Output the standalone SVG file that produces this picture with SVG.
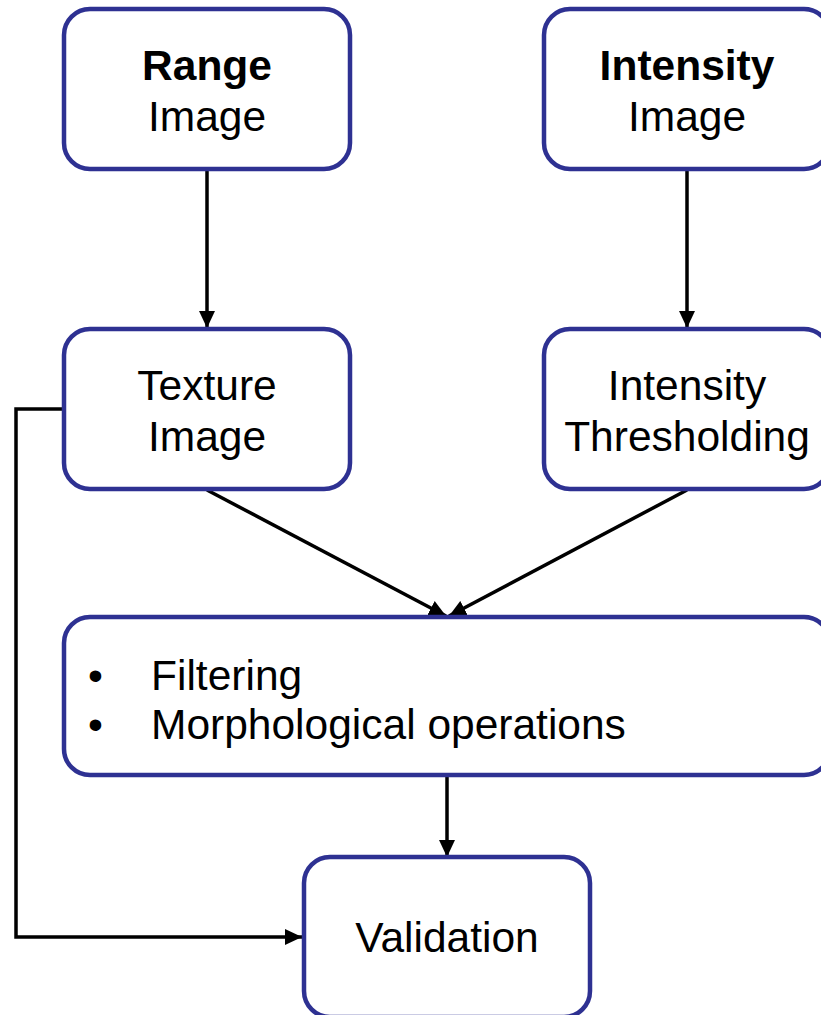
<svg xmlns="http://www.w3.org/2000/svg" width="821" height="1015" viewBox="0 0 821 1015">
<defs>
<style>
.box{fill:#fff;stroke:#2e3192;stroke-width:4.5}
.t{font-family:"Liberation Sans",Arial,sans-serif;font-size:42.5px;fill:#000}
.c{text-anchor:middle}
.b{font-weight:bold}
.ln{fill:none;stroke:#000;stroke-width:3.5}
</style>
<marker id="ah" markerWidth="17" markerHeight="16" refX="17" refY="8" orient="auto" markerUnits="userSpaceOnUse">
<path d="M0,0 L17,8 L0,16 Z" fill="#000"/>
</marker>
</defs>
<rect width="821" height="1015" fill="#fff"/>
<g id="connectors">
<line class="ln" x1="207" y1="169" x2="207" y2="328" marker-end="url(#ah)"/>
<line class="ln" x1="687" y1="169" x2="687" y2="328" marker-end="url(#ah)"/>
<line class="ln" x1="207" y1="490" x2="446" y2="616" marker-end="url(#ah)"/>
<line class="ln" x1="687" y1="490" x2="449" y2="616" marker-end="url(#ah)"/>
<line class="ln" x1="447" y1="776" x2="447" y2="857" marker-end="url(#ah)"/>
<polyline class="ln" points="63,409 16,409 16,937 302,937" marker-end="url(#ah)"/>
</g>
<g id="range">
<rect class="box" x="64" y="9" width="286" height="160" rx="26"/>
<text class="t c b" x="207" y="80">Range</text>
<text class="t c" x="207" y="131">Image</text>
</g>
<g id="intensity">
<rect class="box" x="544" y="9" width="286" height="160" rx="26"/>
<text class="t c b" x="687" y="80">Intensity</text>
<text class="t c" x="687" y="131">Image</text>
</g>
<g id="texture">
<rect class="box" x="64" y="329" width="286" height="160" rx="26"/>
<text class="t c" x="207" y="400">Texture</text>
<text class="t c" x="207" y="451">Image</text>
</g>
<g id="thresholding">
<rect class="box" x="544" y="329" width="286" height="160" rx="26"/>
<text class="t c" x="687" y="400">Intensity</text>
<text class="t c" x="687" y="451">Thresholding</text>
</g>
<g id="filtering">
<rect class="box" x="64" y="617" width="766" height="158" rx="26"/>
<text class="t" x="88" y="690">•</text>
<text class="t" x="151" y="690">Filtering</text>
<text class="t" x="88" y="739">•</text>
<text class="t" x="151" y="739">Morphological operations</text>
</g>
<g id="validation">
<rect class="box" x="304" y="857" width="286" height="160" rx="26"/>
<text class="t c" x="447" y="952">Validation</text>
</g>
</svg>
